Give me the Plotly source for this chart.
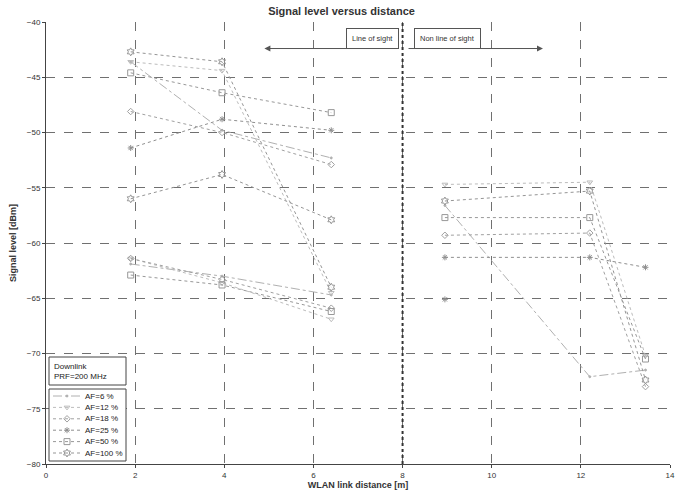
import plotly.graph_objects as go

# Distances [m] for line-of-sight and non-line-of-sight measurement points
x_los = [1.9, 3.95, 6.4]
x_nlos = [8.95, 12.2, 13.45]

series_names = ["AF=6 %", "AF=12 %", "AF=18 %", "AF=25 %", "AF=50 %", "AF=100 %"]

# Signal levels [dBm]; each series holds one or more runs (LOS runs, then NLOS runs)
af6_los = [[-43.6, -49.8, -52.3], [-61.9, -63.0, -64.7]]
af6_nlos = [[-56.6, -72.1, -71.5]]
af12_los = [[-43.6, -44.4, -64.5], [-61.4, -63.6, -66.9]]
af12_nlos = [[-54.7, -54.5, -70.2]]
af18_los = [[-48.1, -50.0, -52.9], [-61.4, -63.3, -65.9]]
af18_nlos = [[-59.3, -59.1, -73.0]]
af25_los = [[-51.4, -48.8, -49.8]]
af25_nlos = [[-61.3, -61.3, -62.2]]
af25_extra_x = [8.95]
af25_extra_y = [-65.1]
af50_los = [[-44.6, -46.4, -48.2], [-62.9, -63.8, -66.2]]
af50_nlos = [[-57.7, -57.7, -70.5]]
af100_los = [[-42.7, -43.6, -64.0], [-56.0, -53.8, -57.9]]
af100_nlos = [[-56.2, -55.3, -72.4]]

los_runs = [af6_los, af12_los, af18_los, af25_los, af50_los, af100_los]
nlos_runs = [af6_nlos, af12_nlos, af18_nlos, af25_nlos, af50_nlos, af100_nlos]

colors = ["#b0b0b0", "#bcbcbc", "#a0a0a0", "#8f8f8f", "#989898", "#959595"]
dashes = ["dashdot", "dot", "dot", "dot", "dot", "dot"]
symbols = ["circle", "triangle-down-open", "diamond-open", "asterisk-open", "square-open", "hexagram-open"]
msizes = [2, 5, 5, 5, 6, 6]

TXT = "#333333"
PLOT_W, PLOT_H = 624, 442  # plot area size in pixels


def px_to_x(px):
    return px / PLOT_W * 14


def px_to_y(py):
    return -40 - py / PLOT_H * 40


fig = go.Figure()

for i, name in enumerate(series_names):
    xs, ys = [], []
    for run in los_runs[i]:
        xs += x_los + [None]
        ys += run + [None]
    for run in nlos_runs[i]:
        xs += x_nlos + [None]
        ys += run + [None]
    if name == "AF=25 %":
        xs += af25_extra_x
        ys += af25_extra_y
    fig.add_trace(go.Scatter(
        x=xs, y=ys, name=name, mode="lines+markers", showlegend=False,
        line=dict(color=colors[i], width=1, dash=dashes[i]),
        marker=dict(symbol=symbols[i], size=msizes[i], color=colors[i],
                    line=dict(color=colors[i], width=1)),
        connectgaps=False,
    ))

# ---- legend drawn on a helper axis measured in pixels from the plot's top-left
leg_rows_y = [374 + 11.4 * k for k in range(len(series_names))]
for i, name in enumerate(series_names):
    fig.add_trace(go.Scatter(
        x=[7, 34], y=[leg_rows_y[i]] * 2, mode="lines", xaxis="x2", yaxis="y2",
        showlegend=False, hoverinfo="skip",
        line=dict(color=colors[i], width=1, dash=dashes[i])))
    fig.add_trace(go.Scatter(
        x=[21], y=[leg_rows_y[i]], mode="markers", xaxis="x2", yaxis="y2",
        showlegend=False, hoverinfo="skip",
        marker=dict(symbol=symbols[i], size=msizes[i], color=colors[i],
                    line=dict(color=colors[i], width=1))))
    fig.add_annotation(x=37, y=leg_rows_y[i], xref="x2", yref="y2", text=name,
                       xanchor="left", yanchor="middle", showarrow=False,
                       font=dict(family="Liberation Sans", size=8, color="#222222"))

# white legend boxes, drawn between the grid and the data
for (bx0, bx1, by0, by1) in [(3, 80, 367, 439), (3, 80, 335, 363)]:
    fig.add_shape(type="rect", x0=px_to_x(bx0), x1=px_to_x(bx1),
                  y0=px_to_y(by0), y1=px_to_y(by1), xref="x", yref="y",
                  line=dict(color="#444444", width=1), fillcolor="white", layer="between")
fig.add_annotation(x=6, y=349, xref="x2", yref="y2", text="Downlink<br>PRF=200 MHz",
                   xanchor="left", yanchor="middle", align="left", showarrow=False,
                   font=dict(family="Liberation Sans", size=8, color="#222222"))

# LOS / NLOS boundary
fig.add_shape(type="line", x0=8, x1=8, y0=-80, y1=-40, xref="x", yref="y",
              line=dict(color="#333333", width=2, dash="dot"))

# Direction arrows
arrow_y = -42.4
fig.add_annotation(x=4.9, y=arrow_y, ax=7.9, ay=arrow_y, xref="x", yref="y",
                   axref="x", ayref="y", text="", showarrow=True,
                   arrowhead=2, arrowsize=1.2, arrowwidth=1, arrowcolor="#555555")
fig.add_annotation(x=11.15, y=arrow_y, ax=8.1, ay=arrow_y, xref="x", yref="y",
                   axref="x", ayref="y", text="", showarrow=True,
                   arrowhead=2, arrowsize=1.2, arrowwidth=1, arrowcolor="#555555")

fig.add_annotation(x=7.33, y=-41.5, xref="x", yref="y", text="Line of sight",
                   showarrow=False, font=dict(family="Liberation Sans", size=7.5, color=TXT),
                   bordercolor="#555555", borderwidth=1, borderpad=5, bgcolor="white")
fig.add_annotation(x=9.0, y=-41.5, xref="x", yref="y", text="Non line of sight",
                   showarrow=False, font=dict(family="Liberation Sans", size=7.5, color=TXT),
                   bordercolor="#555555", borderwidth=1, borderpad=5, bgcolor="white")

fig.update_layout(
    width=683, height=490,
    margin=dict(l=46, r=13, t=22, b=26),
    paper_bgcolor="white", plot_bgcolor="white",
    title=dict(text="<b>Signal level versus distance</b>", x=0.5, xanchor="center",
               y=0.985, yanchor="top",
               font=dict(family="Liberation Sans", size=11, color=TXT)),
    font=dict(family="Liberation Sans", size=8, color=TXT),
    showlegend=False,
    xaxis=dict(range=[0, 14], dtick=2, showgrid=True,
               gridcolor="#707070", griddash="dash", gridwidth=1, zeroline=False,
               showline=True, linecolor="#444444", ticks="outside", ticklen=3,
               tickcolor="#444444", automargin=False,
               title=dict(text="<b>WLAN link distance [m]</b>", standoff=2,
                          font=dict(size=9, color=TXT))),
    yaxis=dict(range=[-80, -40], dtick=5, showgrid=True,
               gridcolor="#707070", griddash="dash", gridwidth=1, zeroline=False,
               showline=True, linecolor="#444444", ticks="outside", ticklen=3,
               tickcolor="#444444", automargin=False,
               title=dict(text="<b>Signal level [dBm]</b>", standoff=8,
                          font=dict(size=9, color=TXT))),
    xaxis2=dict(overlaying="x", range=[0, PLOT_W], visible=False, fixedrange=True),
    yaxis2=dict(overlaying="y", anchor="x2", range=[PLOT_H, 0], visible=False, fixedrange=True),
)

fig.write_html("out.html")
